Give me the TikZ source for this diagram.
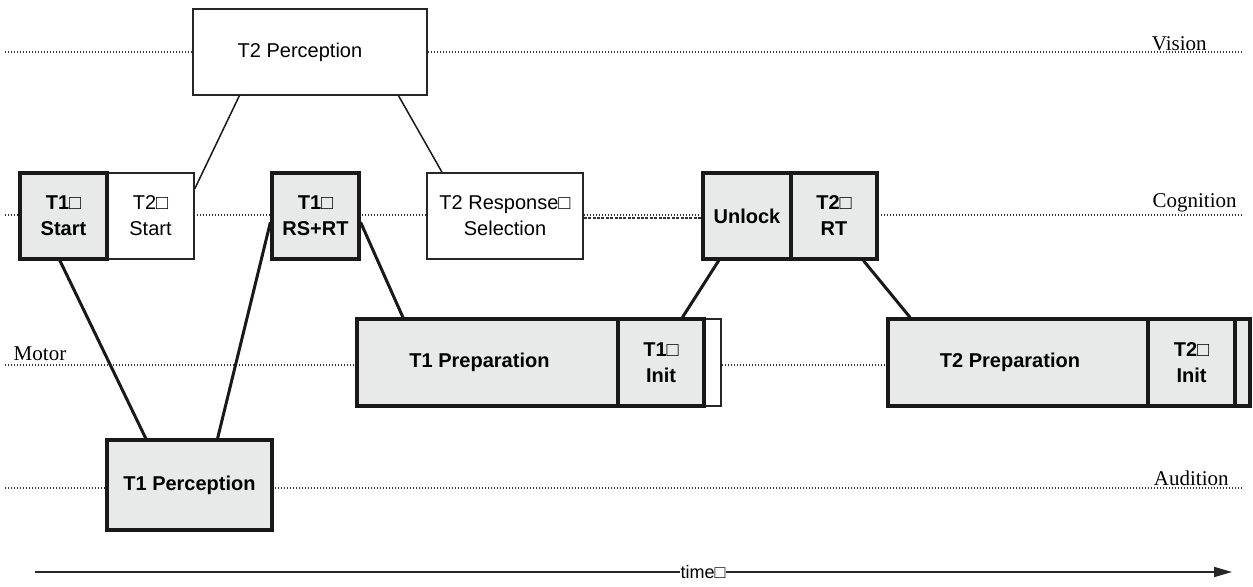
\documentclass[tikz,border=0pt]{standalone}
\usepackage{fontspec}
\setmainfont{Liberation Sans}
\newfontfamily\lanefont{Liberation Serif}
\usetikzlibrary{calc,arrows.meta}
\definecolor{boxgray}{HTML}{E8E9E9}
\begin{document}
\begin{tikzpicture}[x=0.5pt,y=-0.5pt,
  lane/.style={line width=0.6pt,dash pattern=on 0.6pt off 0.9pt,black!80},
  lanelabel/.style={font=\lanefont\fontsize{10.5}{12}\selectfont,inner sep=0pt},
  thinbox/.style={draw=black!85,line width=0.7pt,fill=white,inner sep=0pt,align=center,
     font=\fontsize{10}{13}\selectfont,minimum height=86*0.5pt},
  thickbox/.style={draw=black!90,line width=1.6pt,fill=boxgray,inner sep=0pt,align=center,
     font=\bfseries\fontsize{10}{13}\selectfont,minimum height=86*0.5pt},
  link/.style={line width=0.75pt,black!90},
  tlink/.style={line width=1.5pt,black!90}]
\useasboundingbox (0,0) rectangle (1253,587);
% lanes
\draw[lane] (5,52) -- (1243,52);
\draw[lane] (5,215) -- (1243,215);
\draw[lane] (5,365) -- (1243,365);
\draw[lane] (5,488) -- (1243,488);
\node[lanelabel,anchor=east] (lv) at (1207,44) {Vision};
\node[lanelabel,anchor=east] (lc) at (1237,203) {Cognition};
\node[lanelabel] (lm) at (40,354) {Motor};
\node[lanelabel,anchor=east] (la) at (1229,478) {Audition};
% boxes
\node[thinbox,minimum width=234*0.5pt,minimum height=86*0.5pt] (t2perc) at (310,52) {\hspace*{-10pt}T2 Perception};
\node[thinbox,minimum width=87*0.5pt] (t2start) at (150.5,216) {T2□\\Start};
\node[thickbox,minimum width=87*0.5pt] (t1start) at (63.5,216) {T1□\\Start};
\node[thickbox,minimum width=87*0.5pt] (t1rs) at (315.5,216) {T1□\\RS+RT};
\node[thinbox,minimum width=156*0.5pt] (t2rs) at (505,216) {T2 Response□\\Selection};
\node[thickbox,minimum width=88*0.5pt] (unlock) at (747,216) {Unlock};
\node[thickbox,minimum width=86*0.5pt] (t2rt) at (834,216) {T2□\\RT};
\node[thinbox,minimum width=17*0.5pt,minimum height=87*0.5pt] (t1extra) at (712.5,362.5) {};
\node[thickbox,minimum width=261*0.5pt,minimum height=87*0.5pt] (t1prep) at (487.5,362.5) {\hspace*{-8pt}T1 Preparation};
\node[thickbox,minimum width=86*0.5pt,minimum height=87*0.5pt] (t1init) at (661,362.5) {T1□\\Init};
\node[thickbox,minimum width=15*0.5pt,minimum height=87*0.5pt] (t2extra) at (1242.5,362.5) {};
\node[thickbox,minimum width=260*0.5pt,minimum height=87*0.5pt] (t2prep) at (1018,362.5) {\hspace*{-8pt}T2 Preparation};
\node[thickbox,minimum width=87*0.5pt,minimum height=87*0.5pt] (t2init) at (1191.5,362.5) {T2□\\Init};
\node[thickbox,minimum width=165*0.5pt,minimum height=90*0.5pt] (t1perc) at (189.5,485) {T1 Perception};
% connectors
\draw[link] ($(t2perc.south west)!0.20!(t2perc.south east)$) -- ($(t2start.north east)!0.19!(t2start.south east)$);
\draw[link] ($(t2perc.south west)!0.876!(t2perc.south east)$) -- ($(t2rs.north west)!0.10!(t2rs.north east)$);
\draw[tlink] ($(t1start.south west)!0.46!(t1start.south east)$) -- ($(t1perc.north west)!0.24!(t1perc.north east)$);
\draw[tlink] ($(t1perc.north west)!0.667!(t1perc.north east)$) -- ($(t1rs.north west)!0.57!(t1rs.south west)$);
\draw[tlink] ($(t1rs.north east)!0.57!(t1rs.south east)$) -- ($(t1prep.north west)!0.18!(t1prep.north east)$);
\draw[tlink] ($(t1init.north west)!0.74!(t1init.north east)$) -- ($(unlock.south west)!0.19!(unlock.south east)$);
\draw[tlink] ($(t2rt.south west)!0.83!(t2rt.south east)$) -- ($(t2prep.north west)!0.09!(t2prep.north east)$);
\draw[line width=0.7pt,black!80,dash pattern=on 1.5pt off 0.7pt] ([yshift=-1pt]t2rs.east) -- ([yshift=-1pt]unlock.west);
% time axis
\coordinate (ts) at (35,572);
\coordinate (te) at (1232,572);
\draw[line width=0.8pt,black!85,-{Triangle[length=9pt,width=5pt]}] (ts) -- (te);
\node[fill=white,inner sep=0.5pt,font=\fontsize{9}{10}\selectfont] (tl) at (703,572) {time□};
\end{tikzpicture}
\end{document}
